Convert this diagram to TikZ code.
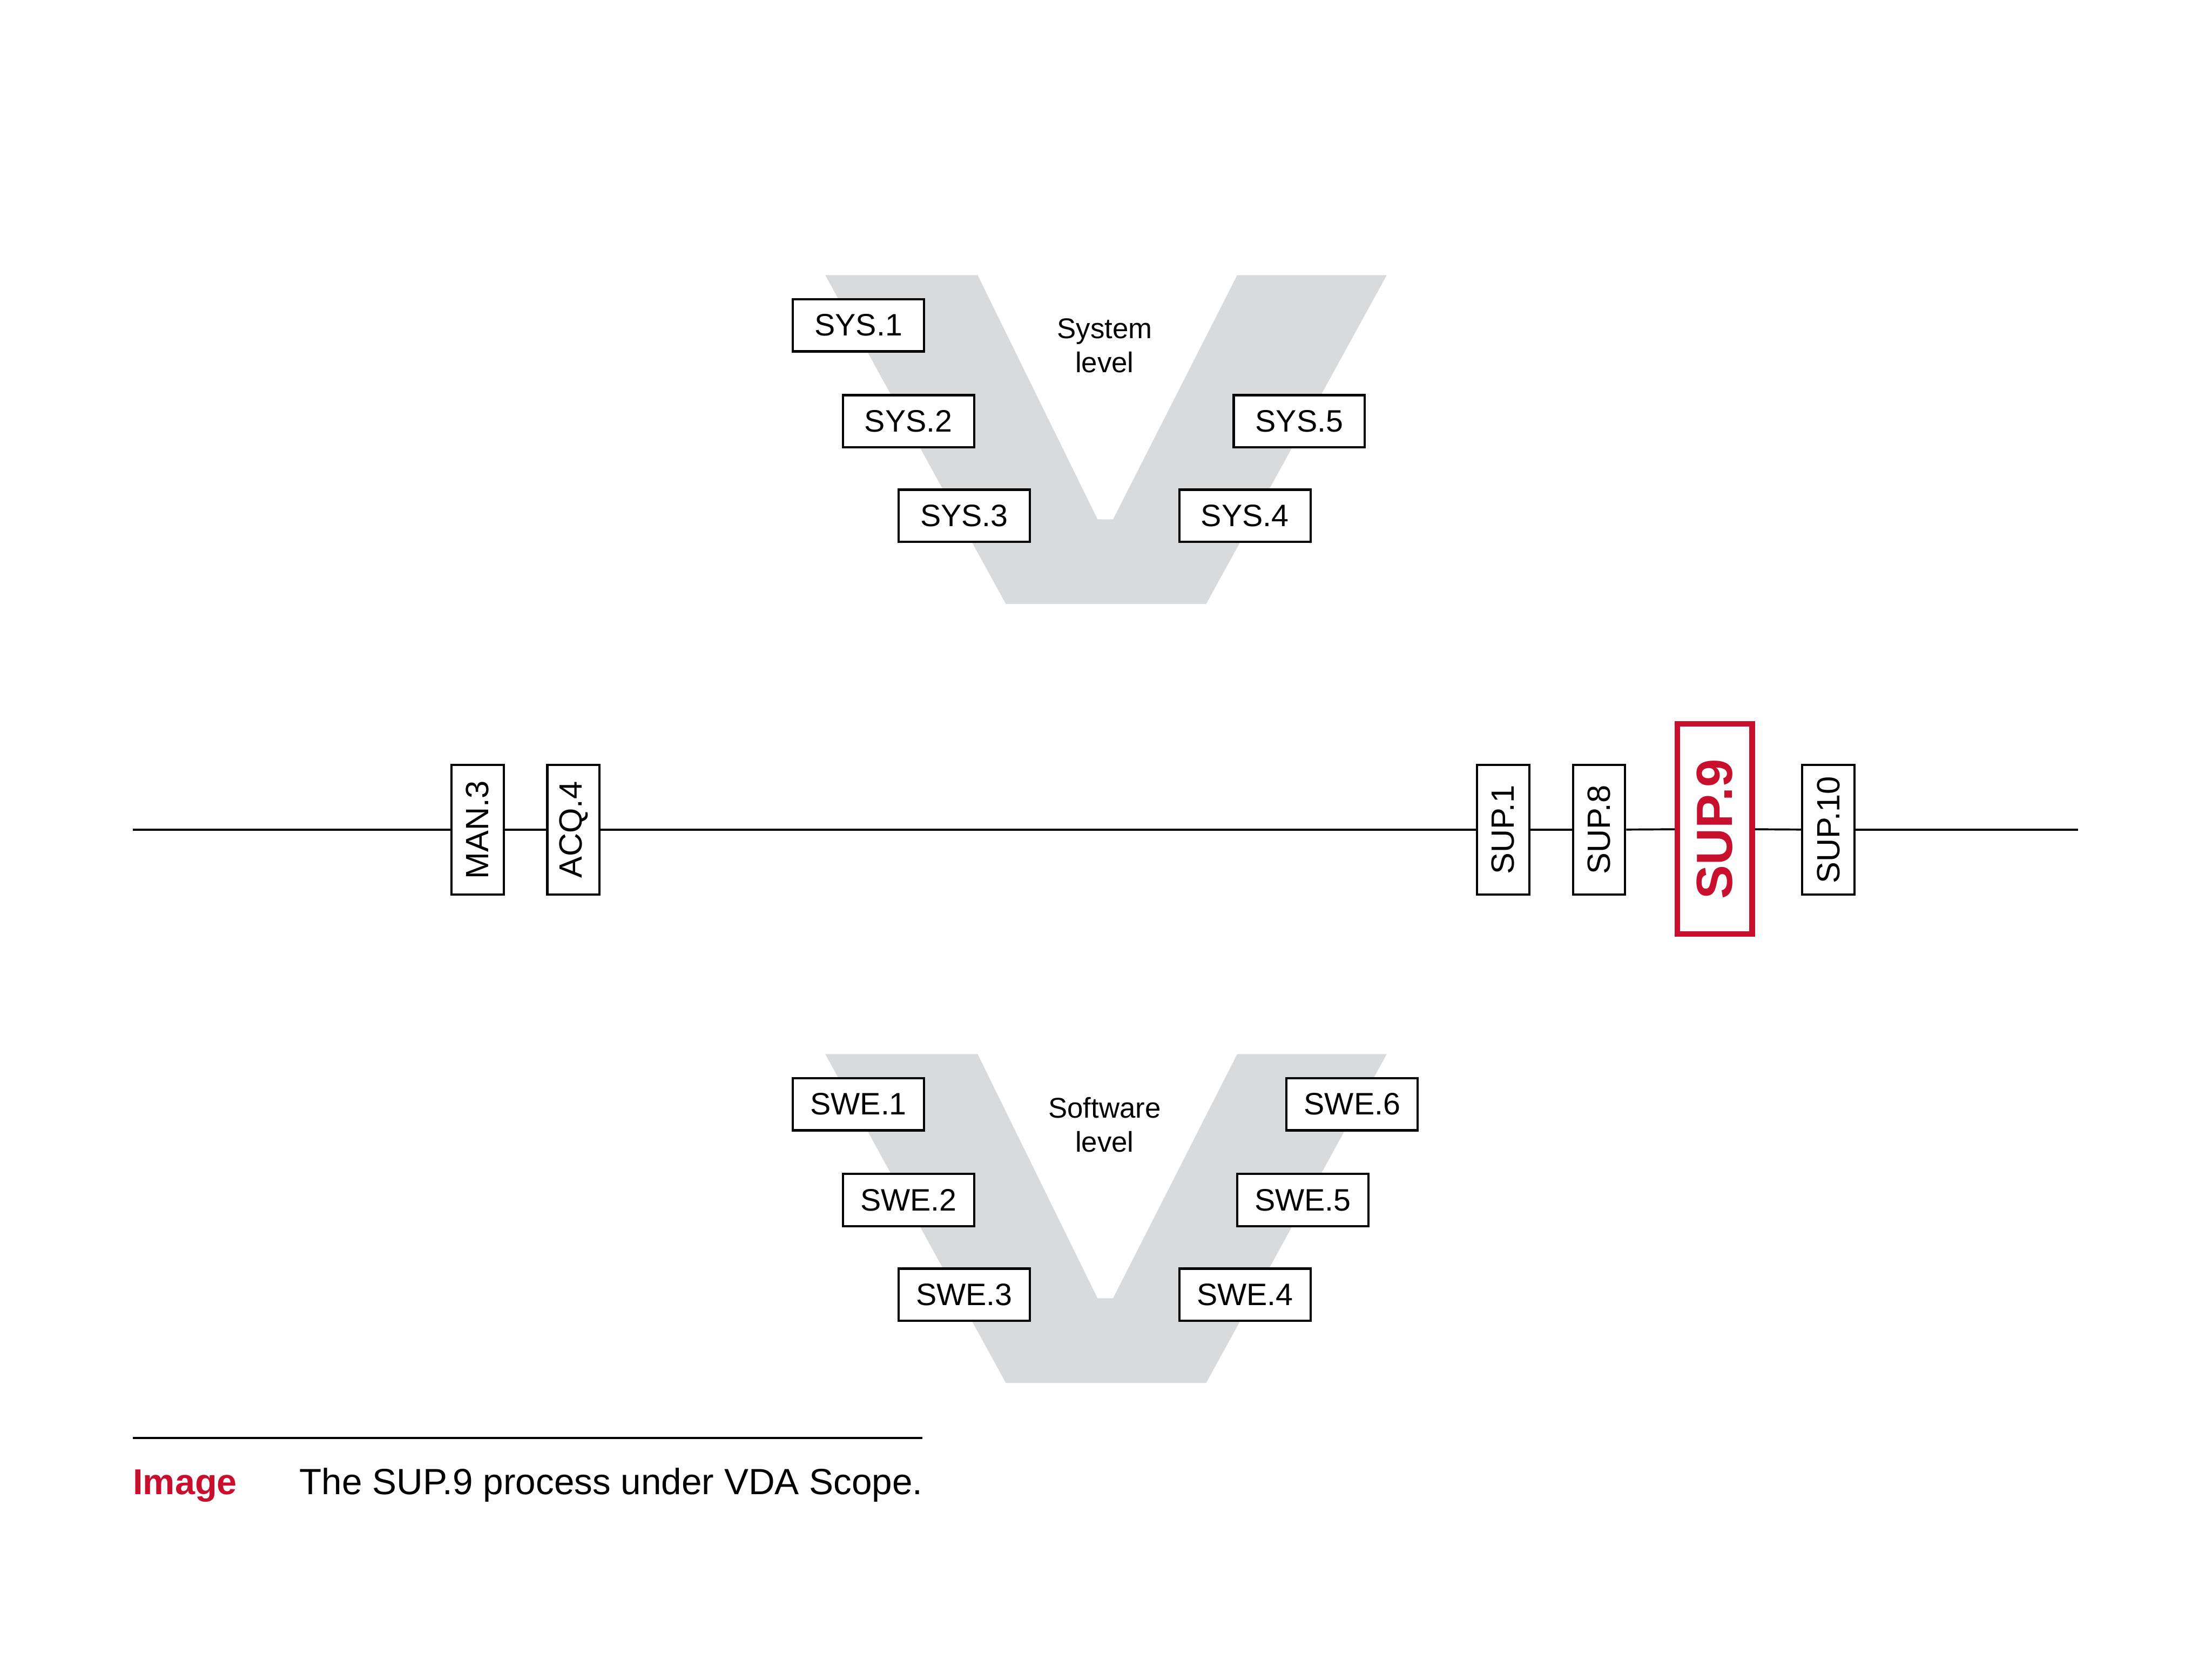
\documentclass[tikz,border=0pt]{standalone}
\usepackage{fontspec}
\setmainfont{Liberation Sans}
\definecolor{vgray}{RGB}{217,218,220}
\definecolor{accred}{RGB}{200,16,46}
\begin{document}
\begin{tikzpicture}[x=0.2mm,y=-0.2mm,
  pbox/.style={draw=black,line width=0.9pt,fill=white,inner sep=0pt,
    minimum width=18.6mm,minimum height=7.4mm,font=\fontsize{12.5}{14}\selectfont},
  vbox/.style={pbox,rotate=90,minimum width=18.4mm,font=\fontsize{13}{14}\selectfont},
  hotbox/.style={draw=accred,line width=2.2pt,fill=white,inner sep=0pt,rotate=90,
    minimum width=29.8mm,minimum height=10.6mm,text=accred,
    font=\fontsize{20.5}{22}\selectfont\bfseries},
  lvl/.style={align=center,font=\fontsize{11.5}{13.6}\selectfont},
  rule/.style={line width=0.8pt}]
\useasboundingbox (0,0) rectangle (1568,1176);
% V shapes
\foreach \dy in {0,552}{
  \fill[vgray,shift={(0,\dy)}] (585,195) -- (693,195) -- (778,368) -- (789,368)
    -- (877,195) -- (983,195) -- (855,428) -- (713,428) -- cycle;
}
% system level
\node[lvl] (syslvl) at (783,245) {System\\level};
\node[pbox] (sys1) at (608.5,230.5) {SYS.1};
\node[pbox] (sys2) at (644,298.5) {SYS.2};
\node[pbox] (sys3) at (683.5,365.5) {SYS.3};
\node[pbox] (sys4) at (882.5,365.5) {SYS.4};
\node[pbox] (sys5) at (921,298.5) {SYS.5};
% software level
\node[lvl] (swelvl) at (783,797) {Software\\level};
\node[pbox] (swe1) at (608.5,782.5) {SWE.1};
\node[pbox] (swe2) at (644,850.5) {SWE.2};
\node[pbox] (swe3) at (683.5,917.5) {SWE.3};
\node[pbox] (swe4) at (882.5,917.5) {SWE.4};
\node[pbox] (swe5) at (923.5,850.5) {SWE.5};
\node[pbox] (swe6) at (958.5,782.5) {SWE.6};
% process line
\coordinate (L) at (94,588);
\coordinate (R) at (1473,588);
\node[vbox] (man3) at (338.5,588) {MAN.3};
\node[vbox] (acq4) at (406.5,588) {ACQ.4};
\node[vbox] (sup1) at (1065.5,588) {SUP.1};
\node[vbox] (sup8) at (1133.5,588) {SUP.8};
\node[hotbox] (sup9) at (1215.5,587.5) {SUP.9};
\node[vbox] (sup10) at (1296,588) {SUP.10};
\draw[rule] (L) -- (man3);
\draw[rule] (man3) -- (acq4);
\draw[rule] (acq4) -- (sup1);
\draw[rule] (sup1) -- (sup8);
\draw[rule] (sup8) -- (sup9);
\draw[rule] (sup9) -- (sup10);
\draw[rule] (sup10) -- (R);
% caption
\coordinate (cl) at (94,1019);
\coordinate (cr) at (654,1019);
\draw[line width=0.9pt] (cl) -- (cr);
\node[anchor=base west,inner sep=0pt,text=accred,font=\fontsize{14.5}{16}\selectfont\bfseries] (imglbl) at (94,1059) {Image};
\node[anchor=base west,inner sep=0pt,font=\fontsize{14.7}{16}\selectfont] (caption) at (212,1059) {The SUP.9 process under VDA Scope.};
\end{tikzpicture}
\end{document}
